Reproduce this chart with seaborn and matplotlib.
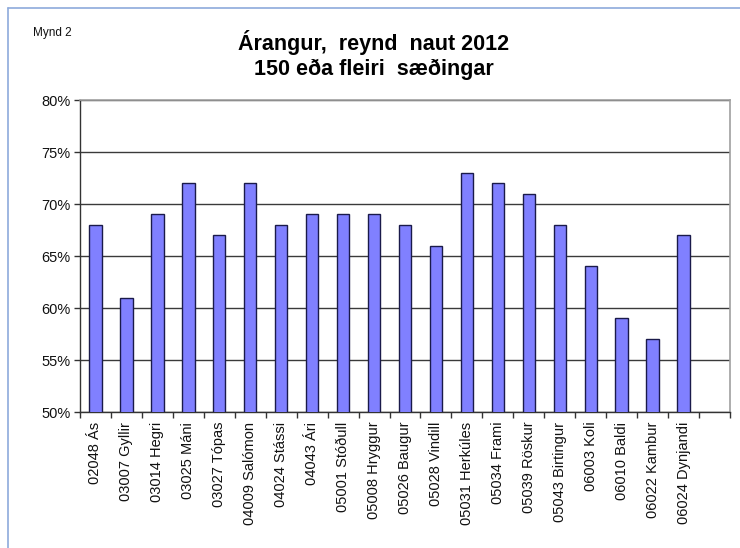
import matplotlib
matplotlib.use("Agg")
import matplotlib.pyplot as plt
import matplotlib.lines as mlines
from matplotlib.ticker import FixedLocator, FuncFormatter
import seaborn as sns
import pandas as pd

names = ["02048 Ás", "03007 Gyllir", "03014 Hegri", "03025 Máni", "03027 Tópas",
         "04009 Salómon", "04024 Stássi", "04043 Ári", "05001 Stóðull", "05008 Hryggur",
         "05026 Baugur", "05028 Vindill", "05031 Herkúles", "05034 Frami", "05039 Röskur",
         "05043 Birtingur", "06003 Koli", "06010 Baldi", "06022 Kambur", "06024 Dynjandi"]
values = [68, 61, 69, 72, 67, 72, 68, 69, 69, 69, 68, 66, 73, 72, 71, 68, 64, 59, 57, 67]
empty_slot = [" "]
title_text = "Árangur,  reynd  naut 2012\n150 eða fleiri  sæðingar"
corner_text = "Mynd 2"

sns.set_theme(style="white")
plt.rcParams['font.family'] = ['Liberation Sans', 'DejaVu Sans']

df = pd.DataFrame({"naut": names, "arangur": values})
order = names + empty_slot

fig = plt.figure(figsize=(7.4, 5.48), dpi=100)
ax = fig.add_axes([80/740, 1-412/548, (730-80)/740, (412-100)/548])

sns.barplot(data=df, x="naut", y="arangur", order=order, ax=ax,
            color="#8080FF", saturation=1, width=0.4,
            edgecolor="#1a1a4a", linewidth=1.0, zorder=3)

ax.set_ylim(50, 80)
ax.set_xlim(-0.5, len(order) - 0.5)
ax.set_yticks([50, 55, 60, 65, 70, 75, 80])
ax.yaxis.set_major_formatter(FuncFormatter(lambda v, p: f"{v:.0f}%"))
ax.grid(axis="y", color="#3a3a3a", linewidth=1.0, zorder=0)
ax.set_axisbelow(True)

ax.set_xticks(range(len(order)))
ax.set_xticklabels(order, rotation=90, fontsize=10.5, color="#111111")
ax.tick_params(axis="x", which="major", length=0, pad=7)
ax.xaxis.set_minor_locator(FixedLocator([i - 0.5 for i in range(len(order) + 1)]))
ax.tick_params(axis="x", which="minor", length=4, width=1, color="#333333", direction="out", bottom=True)
ax.tick_params(axis="y", length=4, width=1, color="#333333", direction="out", left=True,
               labelsize=10.5, labelcolor="#111111", pad=3)
ax.set_xlabel("")
ax.set_ylabel("")

for side in ["left", "bottom"]:
    ax.spines[side].set_color("#333333")
    ax.spines[side].set_linewidth(1.0)
for side in ["top", "right"]:
    ax.spines[side].set_color("#a0a0a0")
    ax.spines[side].set_linewidth(1.2)
    ax.spines[side].set_visible(True)

fig.text(374/740, 1-55/548, title_text, ha="center", va="center",
         fontsize=15.5, fontweight="bold", linespacing=1.25, color="#000000")
fig.text(33/740, 1-33/548, corner_text, ha="left", va="center", fontsize=8.5, color="#111111")

# outer frame (left and top edges)
fig.add_artist(mlines.Line2D([8/740, 8/740], [1-8/548, 0], transform=fig.transFigure,
                             color="#8eaadb", linewidth=1.2))
fig.add_artist(mlines.Line2D([8/740, 1], [1-8/548, 1-8/548], transform=fig.transFigure,
                             color="#8eaadb", linewidth=1.2))

fig.savefig("out.png", dpi=100)
